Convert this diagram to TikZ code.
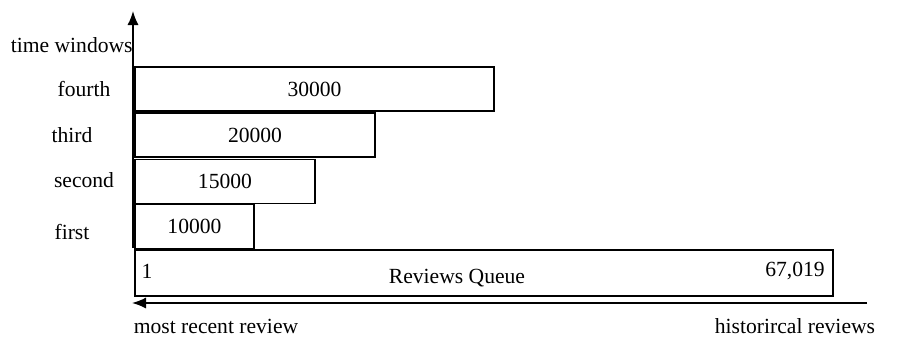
\documentclass[tikz,border=0pt]{standalone}
\usepackage{fontspec}
\setmainfont{Liberation Serif}
\usepackage{tikz}
\usetikzlibrary{arrows.meta}

\tikzset{
  win/.style={draw,line width=0.75pt,inner sep=0pt,outer sep=0pt,minimum height=22pt},
  lbl/.style={inner sep=0pt,font=\fontsize{10.8}{13}\selectfont},
  axis/.style={line width=0.75pt,-{Latex[length=7pt,width=5.5pt]}}
}

\begin{document}
\begin{tikzpicture}[x=0.5pt,y=-0.5pt]
\useasboundingbox (0,0) rectangle (902,337);
\node[win,minimum width=179.5pt,lbl] (fourth) at (314.5,89) {30000};
\node[win,minimum width=120pt,lbl] (third) at (255,135) {20000};
\node[win,minimum width=90pt,lbl] (second) at (225,181.5) {15000};
\node[win,minimum width=59.5pt,lbl] (first) at (194.5,226.5) {10000};
\node[win,minimum width=349pt,minimum height=23pt] (queue) at (484,273) {};
\node[lbl] (qstart) at (147,271) {1};
\node[lbl] (qname) at (457,278) {Reviews Queue};
\node[lbl] (qend) at (795,271) {67,019};

\coordinate (ybot) at (133,248);
\coordinate (ytop) at (133,11);
\coordinate (xright) at (867,303);
\coordinate (xleft) at (132,303);
\draw[axis] (ybot) -- (ytop);
\draw[axis] (xright) -- (xleft);

\node[lbl,anchor=east] (ytitle) at (133,45) {time windows};
\node[lbl] (l4) at (84,89) {fourth};
\node[lbl] (l3) at (72,135) {third};
\node[lbl] (l2) at (84,180) {second};
\node[lbl] (l1) at (72,232) {first};
\node[lbl] (recent) at (216,326) {most recent review};
\node[lbl] (hist) at (795,326) {historircal reviews};
\end{tikzpicture}
\end{document}
